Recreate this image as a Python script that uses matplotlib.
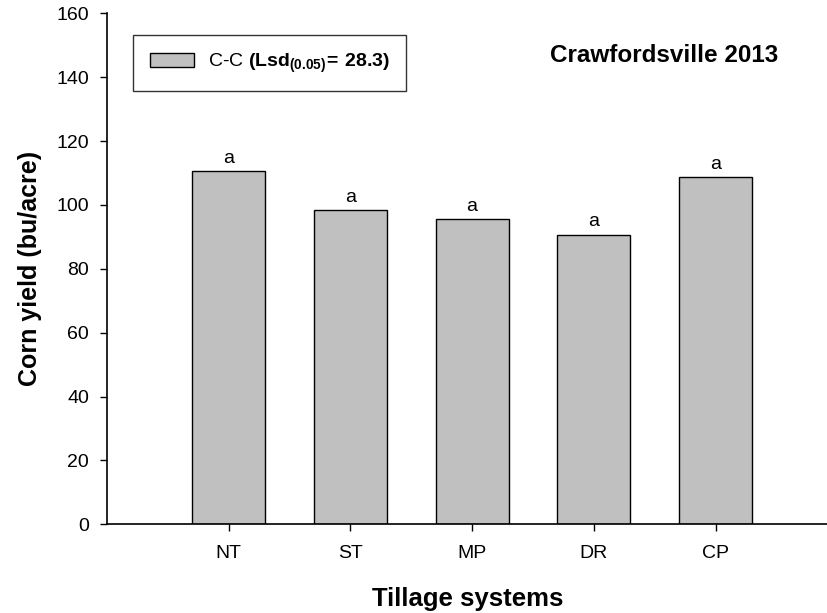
import matplotlib
matplotlib.use("Agg")
import matplotlib.pyplot as plt

plt.rcParams['font.family'] = ['Liberation Sans', 'DejaVu Sans']
plt.rcParams['mathtext.fontset'] = 'custom'
plt.rcParams['mathtext.rm'] = 'Liberation Sans'
plt.rcParams['mathtext.bf'] = 'Liberation Sans:bold'

systems = ["NT", "ST", "MP", "DR", "CP"]
yield_cc = [110.6, 98.5, 95.6, 90.7, 108.8]
letters = ["a", "a", "a", "a", "a"]
y_ticks = [0, 20, 40, 60, 80, 100, 120, 140, 160]
legend_label = r'C-C $\mathbf{(Lsd_{(0.05)}}\!\mathbf{{=}\,28.3)}$'

W, H = 828, 613
fig = plt.figure(figsize=(W / 100, H / 100), dpi=100)
left, bottom, top = 106.7 / W, 1 - 524.3 / H, 1 - 13.3 / H
ax = fig.add_axes([left, bottom, 1 - left, top - bottom])

xs = list(range(1, len(systems) + 1))
ax.bar(xs, yield_cc, width=0.6, color="#c0c0c0", edgecolor="black",
       linewidth=1.0, label=legend_label, zorder=2)

for x, y, s in zip(xs, yield_cc, letters):
    ax.annotate(s, (x, y), xytext=(0, 3), textcoords="offset points",
                ha="center", va="bottom", fontsize=14)

ax.set_xlim(0, (W - 106.7) / 121.8)
ax.set_ylim(0, 160)
ax.set_yticks(y_ticks)
ax.set_xticks(xs)
ax.set_xticklabels(systems)
ax.tick_params(axis="both", direction="out", labelsize=14, length=4.8, width=1)
ax.tick_params(axis="x", pad=10)
ax.tick_params(axis="y", pad=8)
ax.spines["top"].set_visible(False)
ax.spines["right"].set_visible(False)
for sp in ("left", "bottom"):
    ax.spines[sp].set_linewidth(1.2)

ax.set_ylabel("Corn yield (bu/acre)", fontsize=18, fontweight="bold", labelpad=10)
ax.set_xlabel("Tillage systems", fontsize=18.5, fontweight="bold", labelpad=18)

leg = ax.legend(loc="upper left", bbox_to_anchor=(133 / W, 1 - 35 / H),
                bbox_transform=fig.transFigure, borderaxespad=0, fontsize=14,
                frameon=True, fancybox=False, borderpad=0.85, handlelength=2.3,
                handleheight=0.75, handletextpad=0.7)
leg.get_frame().set_edgecolor("black")
leg.get_frame().set_linewidth(1.0)

fig.text(778 / W, 1 - 55 / H, "Crawfordsville 2013", ha="right", va="center",
         fontsize=17.5, fontweight="bold")

fig.savefig("out.png", dpi=100)
